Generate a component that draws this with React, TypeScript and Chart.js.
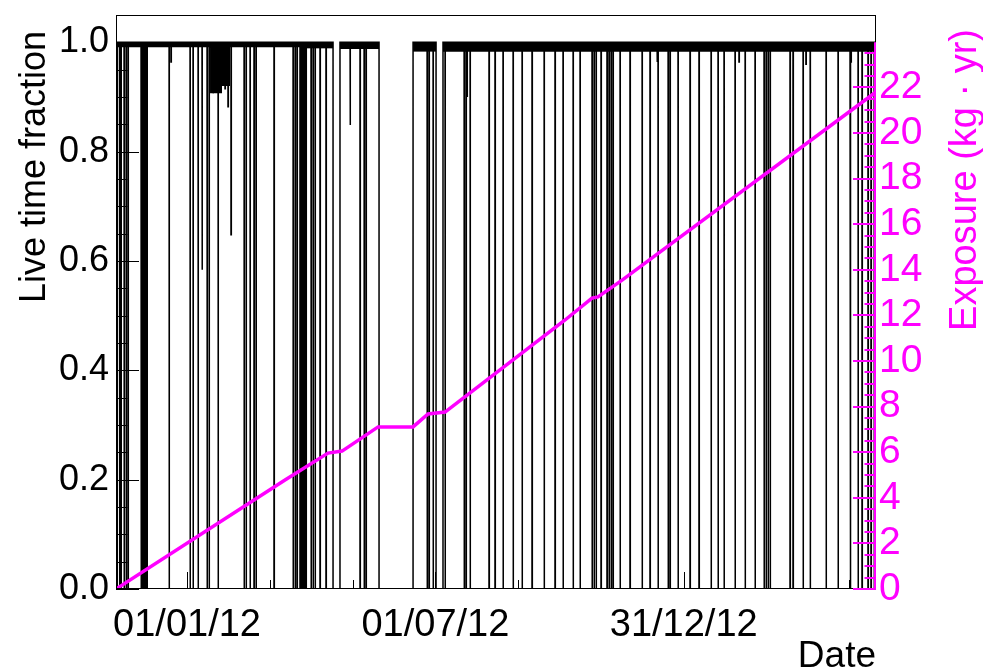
import React, { useEffect, useRef } from "react";
import { Chart, registerables } from "chart.js";

Chart.register(...registerables);

const FONT = "'Liberation Sans', Arial, Helvetica, sans-serif";
const MAGENTA = "#ff00ff";

// x axis: days since 01/01/12
const dateMin = -52.2;
const dateMax = 506.3;
const dateTickDays = [0, 182.5, 365];
const dateTickLabels = ["01/01/12", "01/07/12", "31/12/12"];
const minorDateTickDays = [60.8, 121.7, 243.3, 304.2, 425.8, 486.7];

// left axis (live time fraction)
const liveMax = 1.05;
const liveTickValues = [0, 0.2, 0.4, 0.6, 0.8, 1.0];
const liveTickLabels = ["0.0", "0.2", "0.4", "0.6", "0.8", "1.0"];

// right axis (exposure)
const exposureAxisMax = 23.98;
const exposureTickValues = [0, 2, 4, 6, 8, 10, 12, 14, 16, 18, 20, 22];

// days where the live-time fraction drops to zero (narrow dips)
const dipDays = [
  -51.4, -49.6, -48.5, -46.3, -44.8, -43.4,
  -33.8, -32.7, -31.6, -30.5, -29.4,
  -13.2,
  2.2, 4.4, 8.1, 14.7, 16.2, 22.8,
  41.9, 43.4, 46.3, 49.2, 50.7,
  63.9,
  77.9, 79.4, 80.8, 83.0, 84.1, 85.2, 86.3, 87.4,
  91.1, 92.6, 94.1, 97.7, 102.1,
  127.1, 130.1, 131.5,
  176.4, 177.8, 180.8,
  189.6, 203.6, 205.0, 208.0,
  221.9, 226.3, 232.2, 239.6, 246.2, 253.5, 262.4, 270.4, 276.3, 283.7, 288.8,
  297.6, 299.1, 300.6, 304.2, 308.6, 310.1, 311.6, 313.0, 318.2, 325.5, 334.4,
  340.2, 346.1, 353.5, 354.9, 360.8, 369.6, 376.2, 385.1, 390.2, 394.6, 402.7,
  410.1, 417.4, 424.0, 425.5, 427.0, 428.5, 443.1, 445.3, 452.7, 457.9, 469.6,
  478.4, 487.2, 493.1, 496.0, 500.4, 502.6, 504.9,
];

// partial dips: day and lowest fraction reached
const partialDipDays = [-11.8, 11.0, 19.1, 27.9, 30.1, 32.3, 119.8, 205.8, 345.4, 405.6, 454.8, 487.9];
const partialDipValues = [0.964, 0.584, 0.907, 0.915, 0.882, 0.648, 0.849, 0.9, 0.964, 0.964, 0.96, 0.964];

// periods with no live time
const gapStartDays = [107.3, 141.1, 183.0];
const gapEndDays = [112.4, 166.1, 188.1];

// envelope of small fluctuations just below 1.0
const bandStartDays = [-52.2, 16.9, 25.7, 31.6, 86.0, 112.4, 166.1, 188.1];
const bandEndDays = [16.9, 25.7, 31.6, 83.0, 107.3, 141.1, 183.0, 506.3];
const bandLowValues = [0.991, 0.907, 0.92, 0.991, 0.989, 0.988, 0.983, 0.983];

// cumulative exposure (kg·yr)
const exposureDays = [-52.2, 72.0, 103.6, 113.9, 140.4, 166.1, 177.1, 189.6, 277.8, 297.6, 302.0, 319.7, 506.3];
const exposureValues = [0, 4.78, 5.96, 6.05, 7.11, 7.11, 7.68, 7.76, 11.8, 12.76, 12.81, 13.55, 21.8];

const DIP_WIDTH = 0.25;

function buildLive() {
  type Ev = { s: number; e: number; lo: number };
  const evs: Ev[] = [];
  dipDays.forEach((d) => evs.push({ s: d, e: d + DIP_WIDTH, lo: 0 }));
  partialDipDays.forEach((d, i) => evs.push({ s: d, e: d + DIP_WIDTH, lo: partialDipValues[i] }));
  gapStartDays.forEach((s, i) => evs.push({ s, e: gapEndDays[i], lo: 0 }));
  evs.sort((a, b) => a.s - b.s);
  const pts: { x: number; y: number }[] = [{ x: dateMin, y: 1 }];
  evs.forEach((ev) => {
    pts.push({ x: ev.s, y: 1 }, { x: ev.s, y: ev.lo }, { x: ev.e, y: ev.lo }, { x: ev.e, y: 1 });
  });
  pts.push({ x: dateMax, y: 1 });
  return pts;
}

function buildBand() {
  const pts: { x: number; y: number | null }[] = [];
  bandStartDays.forEach((s, i) => {
    const e = bandEndDays[i];
    if (i > 0 && Math.abs(bandEndDays[i - 1] - s) > 0.01) {
      pts.push({ x: (bandEndDays[i - 1] + s) / 2, y: null });
    }
    pts.push({ x: s, y: bandLowValues[i] }, { x: e, y: bandLowValues[i] });
  });
  return pts;
}

const rootAxesPlugin = {
  id: "rootAxes",
  afterDatasetsDraw(chart: any) {
    const { ctx, chartArea } = chart;
    const { left, right, top, bottom } = chartArea;
    const xs = chart.scales.x;
    const ys = chart.scales.y;
    const y2 = chart.scales.y2;
    ctx.save();
    // frame
    ctx.strokeStyle = "#000";
    ctx.lineWidth = 1;
    ctx.strokeRect(left + 0.5, top + 0.5, right - left - 1, bottom - top - 1);
    // left ticks
    ctx.beginPath();
    for (let i = 0; i * 0.05 <= liveMax + 1e-9; i++) {
      const y = Math.round(ys.getPixelForValue(i * 0.05)) + 0.5;
      const len = i % 4 === 0 ? 23 : 11.5;
      ctx.moveTo(left, y);
      ctx.lineTo(left + len, y);
    }
    // bottom ticks
    dateTickDays.forEach((d) => {
      const x = Math.round(xs.getPixelForValue(d)) + 0.5;
      ctx.moveTo(x, bottom);
      ctx.lineTo(x, bottom - 17);
    });
    minorDateTickDays.forEach((d) => {
      const x = Math.round(xs.getPixelForValue(d)) + 0.5;
      ctx.moveTo(x, bottom);
      ctx.lineTo(x, bottom - 9);
    });
    ctx.stroke();
    // right magenta axis
    ctx.strokeStyle = MAGENTA;
    ctx.lineWidth = 2;
    ctx.beginPath();
    const yTop = y2.getPixelForValue(exposureAxisMax);
    ctx.moveTo(right - 1, bottom);
    ctx.lineTo(right - 1, yTop);
    for (let i = 0; i * 0.5 <= exposureAxisMax; i++) {
      const y = Math.round(y2.getPixelForValue(i * 0.5));
      const len = i % 4 === 0 ? 23 : 11.5;
      ctx.moveTo(right, y);
      ctx.lineTo(right - len, y);
    }
    ctx.stroke();
    ctx.restore();
  },
  afterDraw(chart: any) {
    const { ctx, chartArea } = chart;
    ctx.save();
    ctx.fillStyle = "#000";
    ctx.font = `36px ${FONT}`;
    ctx.textBaseline = "alphabetic";
    // y title
    ctx.save();
    ctx.translate(45, 31);
    ctx.rotate(-Math.PI / 2);
    ctx.textAlign = "right";
    ctx.fillText("Live time fraction", 0, 0);
    ctx.restore();
    // x title
    ctx.font = `37px ${FONT}`;
    ctx.textAlign = "right";
    ctx.fillText("Date", chartArea.right, 667);
    // right title
    ctx.save();
    ctx.fillStyle = MAGENTA;
    ctx.font = `38px ${FONT}`;
    ctx.translate(976, 29);
    ctx.rotate(-Math.PI / 2);
    ctx.textAlign = "right";
    ctx.fillText("Exposure (kg \u00b7 yr)", 0, 0);
    ctx.restore();
    ctx.restore();
  },
};

export default function App() {
  const ref = useRef<HTMLCanvasElement>(null);
  useEffect(() => {
    document.body.style.margin = "0";
    const canvas = ref.current!;
    const chart = new Chart(canvas, {
      type: "line",
      data: {
        datasets: [
          {
            label: "Exposure",
            data: exposureDays.map((d, i) => ({ x: d, y: exposureValues[i] })),
            yAxisID: "y2",
            borderColor: MAGENTA,
            borderWidth: 3.5,
            pointRadius: 0,
            tension: 0,
            order: 0,
          },
          {
            label: "Live time fraction",
            data: buildLive(),
            yAxisID: "y",
            borderColor: "#000",
            borderWidth: 1.5,
            pointRadius: 0,
            tension: 0,
            order: 1,
          },
          {
            label: "fluctuations",
            data: buildBand() as any,
            yAxisID: "y",
            borderWidth: 0,
            borderColor: "#000",
            backgroundColor: "#000",
            pointRadius: 0,
            spanGaps: false,
            fill: { value: 1 } as any,
            order: 2,
          },
        ],
      },
      options: {
        responsive: false,
        animation: false,
        devicePixelRatio: 1,
        layout: { padding: { top: 15, left: 0, right: 0, bottom: 0 } },
        plugins: { legend: { display: false }, tooltip: { enabled: false } },
        scales: {
          x: {
            type: "linear",
            position: "bottom",
            min: dateMin,
            max: dateMax,
            grid: { display: false, drawTicks: false },
            border: { display: false },
            afterBuildTicks: (s: any) => {
              s.ticks = dateTickDays.map((v) => ({ value: v }));
            },
            afterFit: (s: any) => {
              s.height = 80;
              s.paddingLeft = 0;
              s.paddingRight = 0;
            },
            ticks: {
              autoSkip: false,
              maxRotation: 0,
              padding: 14,
              color: "#000",
              font: { family: FONT, size: 38 },
              callback: (v: any) => dateTickLabels[dateTickDays.indexOf(Number(v))] ?? "",
            },
          },
          y: {
            type: "linear",
            position: "left",
            min: 0,
            max: liveMax,
            grid: { display: false, drawTicks: false },
            border: { display: false },
            afterBuildTicks: (s: any) => {
              s.ticks = liveTickValues.map((v) => ({ value: v }));
            },
            afterFit: (s: any) => {
              s.width = 116;
              s.paddingTop = 0;
              s.paddingBottom = 0;
            },
            ticks: {
              padding: 7,
              color: "#000",
              font: { family: FONT, size: 36 },
              callback: (v: any) => liveTickLabels[liveTickValues.indexOf(Number(v))] ?? "",
            },
          },
          y2: {
            type: "linear",
            position: "right",
            min: 0,
            max: exposureAxisMax * 1.05,
            grid: { display: false, drawTicks: false },
            border: { display: false },
            afterBuildTicks: (s: any) => {
              s.ticks = exposureTickValues.map((v) => ({ value: v }));
            },
            afterFit: (s: any) => {
              s.width = 107;
              s.paddingTop = 0;
              s.paddingBottom = 0;
            },
            ticks: {
              padding: 3,
              color: MAGENTA,
              font: { family: FONT, size: 39 },
              callback: (v: any) => String(v),
            },
          },
        },
      },
      plugins: [rootAxesPlugin],
    });
    return () => chart.destroy();
  }, []);
  return (
    <div style={{ width: 983, height: 669 }}>
      <canvas ref={ref} width={983} height={669} style={{ display: "block" }} />
    </div>
  );
}
